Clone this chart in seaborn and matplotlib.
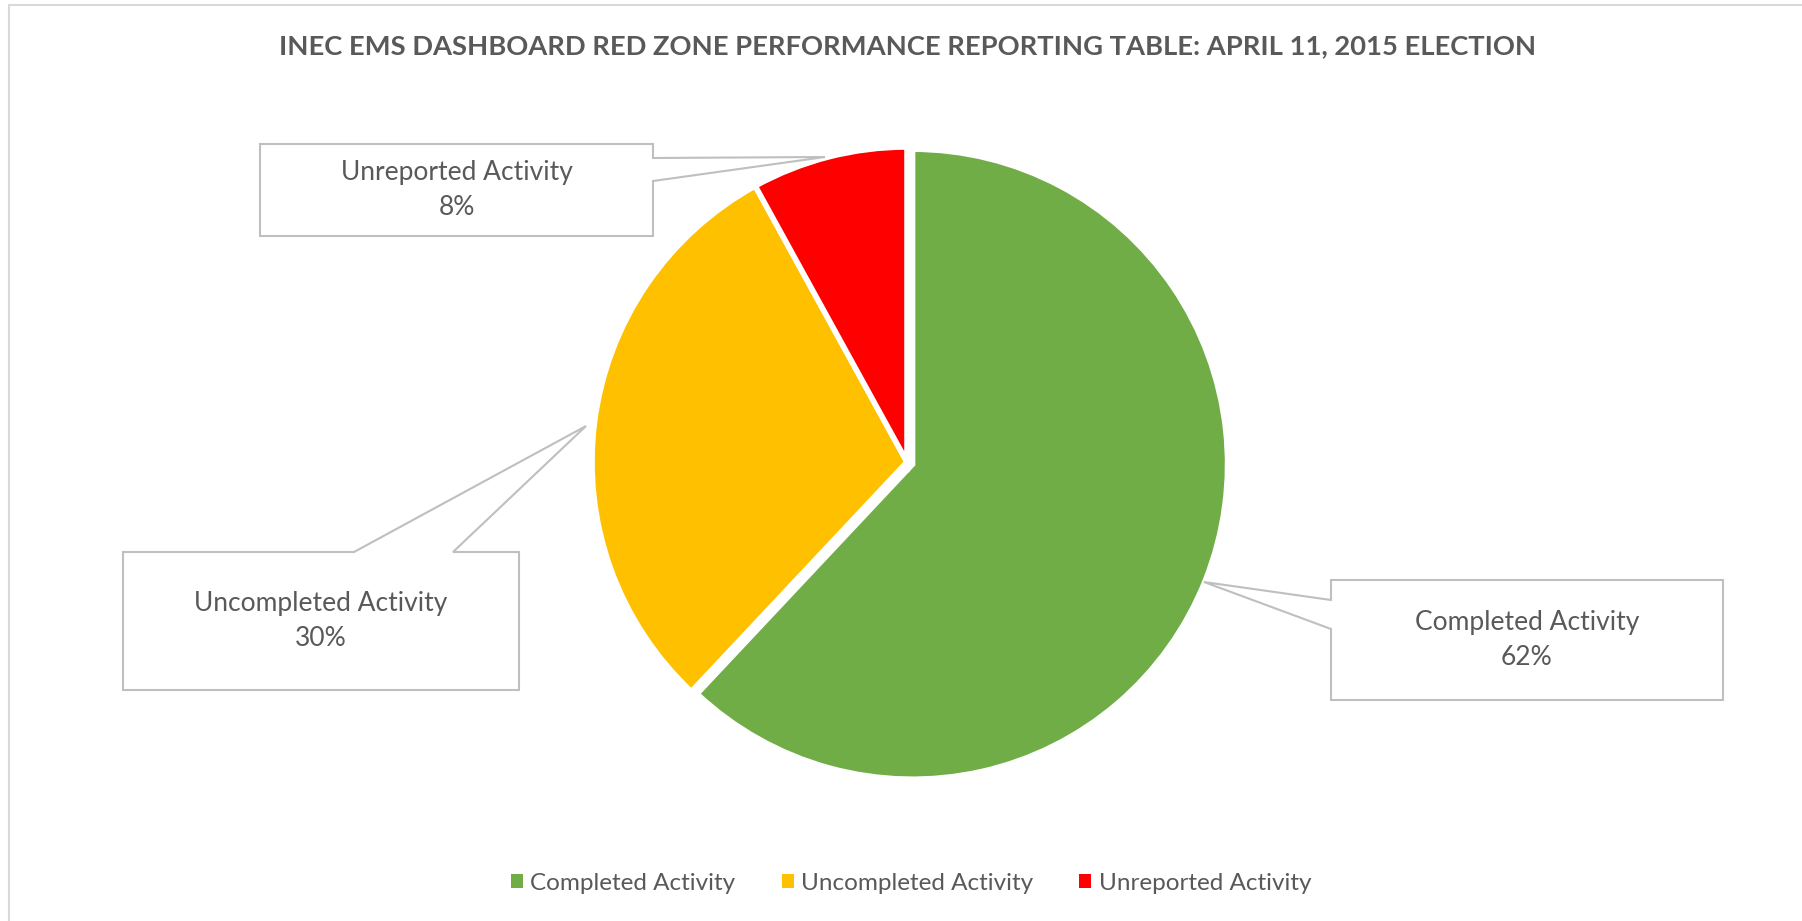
import matplotlib.pyplot as plt
import seaborn as sns
from matplotlib.patches import Polygon, Rectangle

# data
categories = ["Completed Activity", "Uncompleted Activity", "Unreported Activity"]
shares = [62, 30, 8]
colors = ["#70AD47", "#FFC000", "#FF0000"]
title = "INEC EMS DASHBOARD RED ZONE PERFORMANCE REPORTING TABLE: APRIL 11, 2015 ELECTION"

W, H = 1802, 921
TXT = "#595959"
EDGE = "#BFBFBF"

sns.set_theme(style="white")
plt.rcParams['font.family'] = ['Lato', 'DejaVu Sans']

fig = plt.figure(figsize=(W / 100, H / 100), dpi=100)
ax = fig.add_axes([0, 0, 1, 1])
ax.set_xlim(0, W)
ax.set_ylim(0, H)
ax.axis("off")

def Y(y):
    # picture rows run downward, axes upward
    return H - y

# chart area border (only left and top show)
ax.add_patch(Rectangle((9, Y(H + 20)), W + 40, H + 15, fill=False,
                       ec="#D9D9D9", lw=1.5))

pal = sns.color_palette(colors)
wedges, _ = ax.pie(shares, colors=pal, startangle=90, counterclock=False,
                   center=(907, Y(462)), radius=315, explode=[6, 0, 0],
                   wedgeprops=dict(edgecolor="white", linewidth=4))
ax.set_xlim(0, W)
ax.set_ylim(0, H)
ax.set_aspect("equal")

ax.text(908, Y(46), title, ha="center", va="center", fontsize=19.7,
        fontweight="bold", color=TXT)

# callouts: box corners, tail outline, text
def callout(x0, y0, x1, y1, tail, label):
    pts = [(x0, y0)]
    side, a, b, tip = tail
    if side == "top":
        pts += [(a, y0), tip, (b, y0), (x1, y0), (x1, y1), (x0, y1)]
    elif side == "right":
        pts += [(x1, y0), (x1, a), tip, (x1, b), (x1, y1), (x0, y1)]
    else:
        pts += [(x1, y0), (x1, y1), (x0, y1), (x0, b), tip, (x0, a)]
    ax.add_patch(Polygon([(px, Y(py)) for px, py in pts], closed=True,
                         fc="white", ec=EDGE, lw=1.5, zorder=3))
    ax.text((x0 + x1) / 2, Y((y0 + y1) / 2), label, ha="center", va="center",
            fontsize=19, color=TXT, linespacing=1.5, zorder=4)

callout(260, 144, 653, 236, ("right", 158, 181, (825, 157)),
        f"{categories[2]}\n{shares[2]}%")
callout(123, 552, 519, 690, ("top", 354, 453, (586, 426)),
        f"{categories[1]}\n{shares[1]}%")
callout(1331, 580, 1723, 700, ("left", 600, 629, (1204, 582)),
        f"{categories[0]}\n{shares[0]}%")

leg = ax.legend(wedges, categories, loc="center", bbox_to_anchor=(911 / W, 1 - 883 / H),
                ncol=3, frameon=False, fontsize=17.5, handlelength=0.5,
                handleheight=0.5, handletextpad=0.3, columnspacing=1.9)
for t in leg.get_texts():
    t.set_color(TXT)
for h in leg.legend_handles:
    h.set_linewidth(0)

fig.savefig("out.png", dpi=100, facecolor="white")
